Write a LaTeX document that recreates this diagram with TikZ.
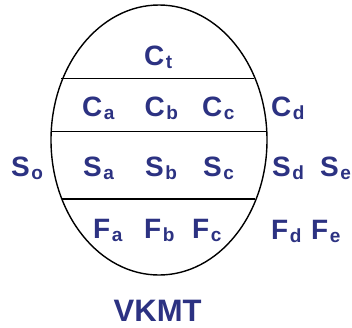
\documentclass[tikz,border=0pt]{standalone}
\usepackage{fontspec}
\setmainfont{Liberation Sans}
\definecolor{navy}{RGB}{44,50,130}
\newcommand{\lbl}[2]{#1\hspace{1.5pt}\raisebox{-3.5pt}{\fontsize{19}{19}\selectfont #2}}
\tikzset{
  txt/.style={anchor=base west,inner sep=0pt,text=navy,font=\fontsize{28}{28}\selectfont\bfseries},
  bigtxt/.style={txt,font=\fontsize{31}{31}\selectfont\bfseries},
  ln/.style={draw=black,line width=1.4pt}
}
\begin{document}
\begin{tikzpicture}[x=1pt,y=-1pt]
\useasboundingbox (0,0) rectangle (352,327);
\draw[ln] (159,140) ellipse [x radius=108,y radius=135];
\draw[ln] (61,78.5) -- (254,78.5);
\draw[ln] (51,131.5) -- (267,131.5);
\draw[ln] (62,199) -- (255,199);
\node[txt] (ct) at (144,65) {\lbl{C}{t}};
\node[txt] (ca) at (82,116) {\lbl{C}{a}};
\node[txt] (cb) at (144.5,116) {\lbl{C}{b}};
\node[txt] (cc) at (202,116) {\lbl{C}{c}};
\node[txt] (cd) at (271,116) {\lbl{C}{d}};
\node[txt] (so) at (11,176) {\lbl{S}{o}};
\node[txt] (sa) at (83,176) {\lbl{S}{a}};
\node[txt] (sb) at (145,176) {\lbl{S}{b}};
\node[txt] (sc) at (203,176) {\lbl{S}{c}};
\node[txt] (sd) at (272,176) {\lbl{S}{d}};
\node[txt] (se) at (320,176) {\lbl{S}{e}};
\node[txt] (fa) at (93,238) {\lbl{F}{a}};
\node[txt] (fb) at (144,238) {\lbl{F}{b}};
\node[txt] (fc) at (192,238) {\lbl{F}{c}};
\node[txt] (fd) at (271,239) {\lbl{F}{d}};
\node[txt] (fe) at (311,239) {\lbl{F}{e}};
\node[bigtxt] (vk) at (113.5,321.5) {VKMT};
\end{tikzpicture}
\end{document}
